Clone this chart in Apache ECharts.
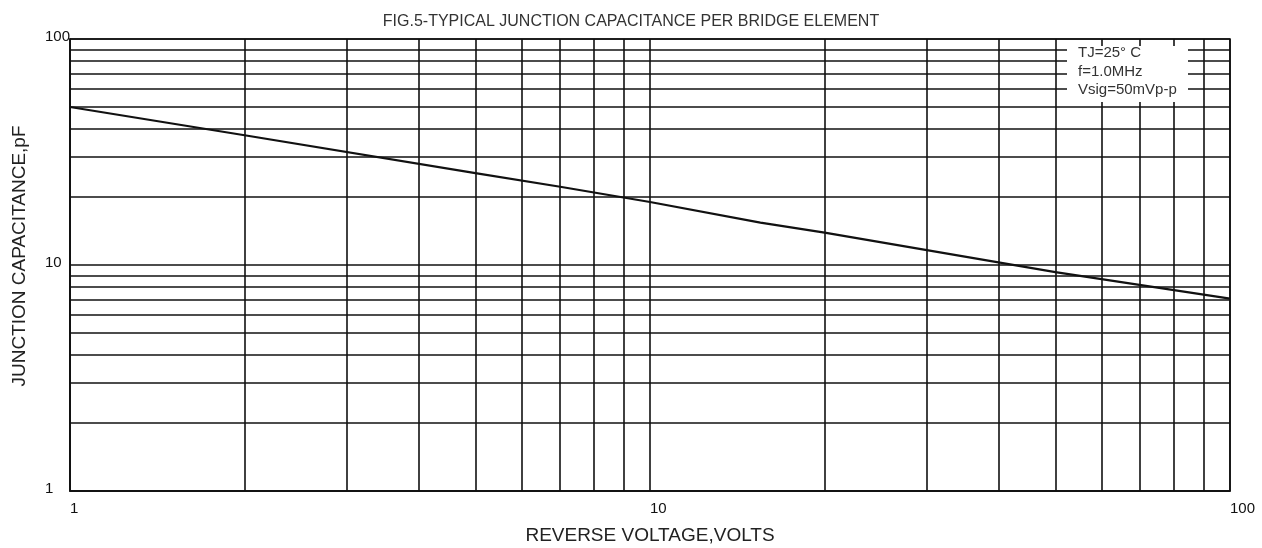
<!DOCTYPE html>
<html>
<head>
<meta charset="utf-8">
<script src="https://cdn.jsdelivr.net/npm/echarts@6/dist/echarts.min.js"></script>
<style>
html,body{margin:0;padding:0;background:#fff;}
#chart{width:1262px;height:548px;}
</style>
</head>
<body>
<div id="chart"></div>
<script>
// Data
const voltage = [1, 2, 5, 7, 10, 15.5, 20, 50, 100];
const capacitance = [50, 37.5, 25.5, 22.2, 19, 15.4, 13.9, 9.3, 7.1];
const xMinorGrid = [2, 3, 4, 5, 6, 7, 8, 9, 20, 30, 40, 50, 60, 70, 80, 90];
const yMinorGrid = [2, 3, 4, 5, 6, 7, 8, 9, 20, 30, 40, 50, 60, 70, 80, 90];
const conditionLines = ['TJ=25° C', 'f=1.0MHz', 'Vsig=50mVp-p'];
const titleText = 'FIG.5-TYPICAL JUNCTION CAPACITANCE PER BRIDGE ELEMENT';
const xName = 'REVERSE VOLTAGE,VOLTS';
const yName = 'JUNCTION CAPACITANCE,pF';

const FONT = '"Liberation Sans", Arial, sans-serif';
const LINE = '#111';

const chart = echarts.init(document.getElementById('chart'), null, {renderer: 'canvas'});

const gridMarks = [];
xMinorGrid.forEach(v => gridMarks.push({xAxis: v}));
yMinorGrid.forEach(v => gridMarks.push({yAxis: v}));

const option = {
  animation: false,
  backgroundColor: '#fff',
  title: {
    text: titleText,
    left: 'center',
    top: 9,
    textStyle: {fontFamily: FONT, fontSize: 16, fontWeight: 'normal', color: '#333'}
  },
  grid: {left: 70, right: 32, top: 39, bottom: 57, show: true, borderColor: LINE, borderWidth: 1.6,
    containLabel: false, outerBoundsMode: 'none'},
  xAxis: {
    type: 'log', logBase: 10, min: 1, max: 100,
    name: xName, nameLocation: 'middle', nameGap: 35,
    nameTextStyle: {fontFamily: FONT, fontSize: 19, color: '#222'},
    axisLine: {show: true, lineStyle: {color: LINE, width: 1.6}},
    axisTick: {show: false},
    splitLine: {show: true, lineStyle: {color: LINE, width: 1.6}},
    minorSplitLine: {show: false},
    axisLabel: {fontFamily: FONT, fontSize: 15, color: '#111', align: 'left', margin: 10,
      formatter: v => String(Math.round(v))}
  },
  yAxis: {
    type: 'log', logBase: 10, min: 1, max: 100,
    name: yName, nameLocation: 'middle', nameGap: 41,
    nameTextStyle: {fontFamily: FONT, fontSize: 19, color: '#222', padding: [0, 0, 0, 18]},
    axisLine: {show: true, lineStyle: {color: LINE, width: 1.6}},
    axisTick: {show: false},
    splitLine: {show: true, lineStyle: {color: LINE, width: 1.6}},
    axisLabel: {fontFamily: FONT, fontSize: 15, color: '#111', align: 'left', margin: 25,
      verticalAlign: 'bottom', lineHeight: 4,
      formatter: v => String(Math.round(v))}
  },
  series: [
    {
      type: 'line',
      data: voltage.map((v, i) => [v, capacitance[i]]),
      showSymbol: false,
      symbol: 'none',
      smooth: false,
      lineStyle: {color: '#111', width: 2.2},
      z: 5,
      markLine: {
        silent: true,
        symbol: ['none', 'none'],
        label: {show: false},
        lineStyle: {color: LINE, width: 1.6, type: 'solid'},
        animation: false,
        data: gridMarks
      }
    }
  ],
  graphic: [
    {type: 'rect', shape: {x: 1067, y: 46, width: 121, height: 56}, style: {fill: '#fff'}, z: 100},
    {type: 'text', x: 1078, y: 53, z: 101, style: {text: conditionLines[0], font: '15px ' + FONT, fill: '#333', verticalAlign: 'middle'}},
    {type: 'text', x: 1078, y: 72, z: 101, style: {text: conditionLines[1], font: '15px ' + FONT, fill: '#333', verticalAlign: 'middle'}},
    {type: 'text', x: 1078, y: 90, z: 101, style: {text: conditionLines[2], font: '15px ' + FONT, fill: '#333', verticalAlign: 'middle'}}
  ]
};
chart.setOption(option);
</script>
</body>
</html>
